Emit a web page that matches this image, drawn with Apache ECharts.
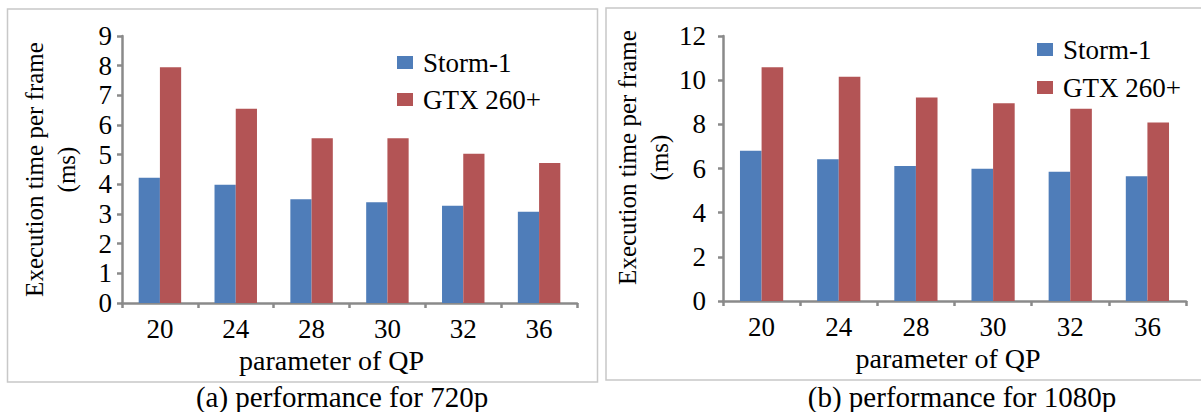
<!DOCTYPE html>
<html>
<head>
<meta charset="utf-8">
<script src="https://cdn.jsdelivr.net/npm/echarts@6/dist/echarts.min.js"></script>
<style>
html,body{margin:0;padding:0;background:#fff;}
#chart{width:1201px;height:412px;}
</style>
</head>
<body>
<div id="chart"></div>
<script>
// ---- data ----
const categories = ['20', '24', '28', '30', '32', '36'];
const seriesNames = ['Storm-1', 'GTX 260+'];
const storm720 = [4.22, 3.99, 3.5, 3.4, 3.28, 3.08];
const gtx720 = [7.95, 6.55, 5.55, 5.55, 5.03, 4.72];
const storm1080 = [6.8, 6.42, 6.11, 5.99, 5.85, 5.65];
const gtx1080 = [10.58, 10.16, 9.22, 8.95, 8.71, 8.08];
const yTitle = 'Execution time per frame\n(ms)';
const xTitle = 'parameter of QP';
const captions = ['(a) performance for 720p', '(b) performance for 1080p'];

const FONT = '"Liberation Serif", "Times New Roman", serif';
const BLUE = '#4F7DB9';
const RED = '#B35455';
const AXIS = '#8a8a8a';

function xAxisCfg(gridIndex, padRight, gap) {
  return {
    type: 'category', gridIndex: gridIndex, data: categories,
    axisLine: {lineStyle: {color: AXIS, width: 2.5}},
    axisTick: {show: true, length: 5, lineStyle: {color: AXIS, width: 2.5}},
    axisLabel: {color: '#000', fontFamily: FONT, fontSize: 27, margin: 12},
    name: xTitle, nameLocation: 'middle', nameGap: gap,
    nameTextStyle: {color: '#000', fontFamily: FONT, fontSize: 28, padding: [0, padRight, 0, 0]}
  };
}
function yAxisCfg(gridIndex, max, interval, margin, gap, padR) {
  return {
    type: 'value', gridIndex: gridIndex, min: 0, max: max, interval: interval,
    axisLine: {show: true, lineStyle: {color: AXIS, width: 2.5}},
    axisTick: {show: true, length: 5, lineStyle: {color: AXIS, width: 2.5}},
    splitLine: {show: false},
    axisLabel: {color: '#000', fontFamily: FONT, fontSize: 27, margin: margin},
    name: yTitle, nameLocation: 'middle', nameRotate: 90, nameGap: gap,
    nameTextStyle: {color: '#000', fontFamily: FONT, fontSize: 25, lineHeight: 32, padding: [0, 0, 0, padR]}
  };
}
function bar(name, data, idx, color) {
  return {
    name: name, type: 'bar', xAxisIndex: idx, yAxisIndex: idx, data: data,
    barGap: '0%', barCategoryGap: '44%',
    itemStyle: {color: color}
  };
}
function legendCfg(left, top, gap) {
  return {
    orient: 'vertical', left: left, top: top, itemWidth: 16, itemHeight: 13, itemGap: gap,
    data: seriesNames, icon: 'rect',
    textStyle: {color: '#000', fontFamily: FONT, fontSize: 27, padding: [0, 0, 0, 5]}
  };
}

const chart = echarts.init(document.getElementById('chart'), null, {renderer: 'svg'});
chart.setOption({
  backgroundColor: '#fff',
  animation: false,
  grid: [
    {left: 122, top: 36, width: 455, height: 267},
    {left: 723, top: 36, width: 463, height: 265}
  ],
  xAxis: [xAxisCfg(0, 36, 39), xAxisCfg(1, 13, 36)],
  yAxis: [yAxisCfg(0, 9, 1, 10, 40, 0), yAxisCfg(1, 12, 2, 17, 44, 22)],
  legend: [legendCfg(392, 44, 10), legendCfg(1032, 31, 11)],
  series: [
    bar(seriesNames[0], storm720, 0, BLUE),
    bar(seriesNames[1], gtx720, 0, RED),
    bar(seriesNames[0], storm1080, 1, BLUE),
    bar(seriesNames[1], gtx1080, 1, RED)
  ],
  graphic: [
    {type: 'rect', shape: {x: 7.5, y: 9, width: 590, height: 373}, style: {fill: 'none', stroke: '#c8c8c8', lineWidth: 1.5}, silent: true},
    {type: 'rect', shape: {x: 606, y: 8, width: 610, height: 372}, style: {fill: 'none', stroke: '#c8c8c8', lineWidth: 1.5}, silent: true},
    {type: 'text', x: 342, y: 397, style: {text: captions[0], font: '29px ' + FONT, fill: '#000', textAlign: 'center', textVerticalAlign: 'middle'}},
    {type: 'text', x: 962, y: 397, style: {text: captions[1], font: '29px ' + FONT, fill: '#000', textAlign: 'center', textVerticalAlign: 'middle'}}
  ]
});
</script>
</body>
</html>
